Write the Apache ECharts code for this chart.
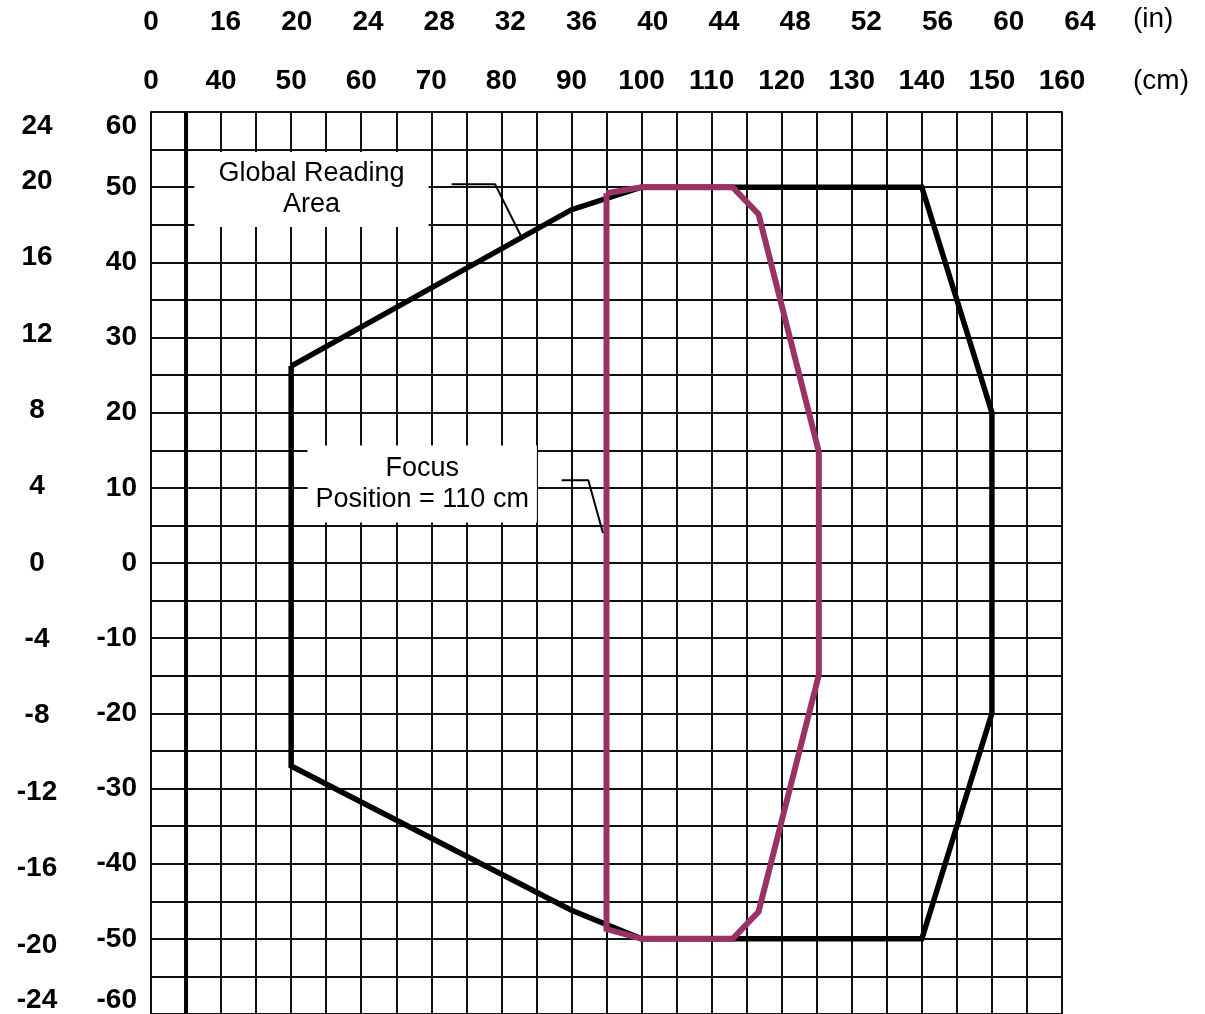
<!DOCTYPE html>
<html><head><meta charset="utf-8">
<script src="https://cdn.jsdelivr.net/npm/echarts@6/dist/echarts.min.js"></script>
<style>html,body{margin:0;padding:0;background:#fff}#c{width:1205px;height:1014px}</style>
</head><body><div id="c"></div>
<script>
// ---------------- data ----------------
const cmTickLabelsX = [0, 40, 50, 60, 70, 80, 90, 100, 110, 120, 130, 140, 150, 160];
const inTickLabelsX = [0, 16, 20, 24, 28, 32, 36, 40, 44, 48, 52, 56, 60, 64];
const cmTickLabelsY = [-60, -50, -40, -30, -20, -10, 0, 10, 20, 30, 40, 50, 60];
const inTickLabelsY = [-24, -20, -16, -12, -8, -4, 0, 4, 8, 12, 16, 20, 24];
const unitLabels = ['(in)', '(cm)'];

// Global Reading Area outline (cm)
const globalX = [50, 90, 100, 140, 150, 150, 140, 100, 90, 50, 50];
const globalY = [26.2, 47, 50, 50, 20, -20, -50, -50, -46.2, -27, 26.2];
// Focus position = 110 cm outline (cm)
const focusX = [95, 100, 113, 116.7, 125.3, 125.3, 116.7, 113, 100, 95, 95];
const focusY = [49.2, 50, 50, 46.4, 14.8, -14.9, -46.4, -50, -50, -48.7, 49.2];
// thick reference line (cm)
const scannerX = 35;
// callout leader lines (cm)
const globalLeaderX = [72.9, 79.1, 82.9];
const globalLeaderY = [50.4, 50.4, 43.3];
const focusLeaderX = [88.6, 92.4, 94.5];
const focusLeaderY = [11.0, 11.0, 4.0];
// callout texts and anchors (cm)
const globalNoteText = 'Global Reading\nArea';
const globalNoteAt = [52.9, 49.7];
const focusNoteText = 'Focus\nPosition = 110 cm';
const focusNoteAt = [68.7, 10.5];

// ---------------- axis constants ----------------
const X_MIN = 30, X_MAX = 160, X_MAX_IN_ROW = 165, Y_MIN = -60, Y_MAX = 60;
const CM_PER_IN = 2.54;
const clampY = v => Math.max(Y_MIN, Math.min(Y_MAX, v));
const zip = (a, b) => a.map((v, i) => [v, b[i]]);

function makeLabels(values, toPos) {
  const map = {};
  const pos = values.map(v => { const p = toPos(v); map[p.toFixed(3)] = String(v); return p; });
  pos.sort((a, b) => a - b);
  return { pos, fmt: val => map[Number(val).toFixed(3)] ?? '' };
}
const cmX = makeLabels(cmTickLabelsX, v => Math.max(X_MIN, v));
const inX = makeLabels(inTickLabelsX, v => Math.max(X_MIN, v * CM_PER_IN));
const cmY = makeLabels(cmTickLabelsY, v => clampY(v));
const inY = makeLabels(inTickLabelsY, v => clampY(v * CM_PER_IN));

const FONT = '"Liberation Sans", Arial, Helvetica, sans-serif';
const tickFont = { fontSize: 28, fontWeight: 'bold', color: '#000', fontFamily: FONT };
const gridLine = { color: '#111', width: 2 };

const chart = echarts.init(document.getElementById('c'), null, { renderer: 'canvas' });
const mainW = 911;
chart.setOption({
  animation: false,
  backgroundColor: '#fff',
  graphic: unitLabels.map((t, i) => ({
    type: 'text', left: 1133, top: i === 0 ? 5 : 67, silent: true,
    style: { text: t, fontSize: 28, fill: '#000', fontFamily: FONT }
  })),
  grid: [
    { left: 151, top: 112, width: mainW, height: 902, show: false, outerBoundsMode: 'none', containLabel: false },
    { left: 151, top: 112, width: mainW * (X_MAX_IN_ROW - X_MIN) / (X_MAX - X_MIN), height: 902, show: false,
      outerBoundsMode: 'none', containLabel: false }
  ],
  xAxis: [
    { gridIndex: 0, type: 'value', min: X_MIN, max: X_MAX, interval: 5, position: 'top',
      axisLine: { show: true, lineStyle: gridLine }, axisTick: { show: false },
      splitLine: { show: true, lineStyle: gridLine },
      axisLabel: Object.assign({ customValues: cmX.pos, formatter: cmX.fmt, margin: 17 }, tickFont) },
    { gridIndex: 0, type: 'value', min: X_MIN, max: X_MAX, interval: 5, position: 'bottom',
      axisLine: { show: true, lineStyle: gridLine }, axisTick: { show: false },
      axisLabel: { show: false }, splitLine: { show: false } },
    { gridIndex: 1, type: 'value', min: X_MIN, max: X_MAX_IN_ROW, position: 'top', offset: 59,
      axisLine: { show: false }, axisTick: { show: false }, splitLine: { show: false },
      axisLabel: Object.assign({ customValues: inX.pos, formatter: inX.fmt, margin: 17 }, tickFont) }
  ],
  yAxis: [
    { gridIndex: 0, type: 'value', min: Y_MIN, max: Y_MAX, interval: 5, position: 'left',
      axisLine: { show: true, lineStyle: gridLine }, axisTick: { show: false },
      splitLine: { show: true, lineStyle: gridLine },
      axisLabel: Object.assign({ customValues: cmY.pos, formatter: cmY.fmt, margin: 14,
        verticalAlignMaxLabel: 'top', verticalAlignMinLabel: 'bottom' }, tickFont) },
    { gridIndex: 0, type: 'value', min: Y_MIN, max: Y_MAX, position: 'left',
      axisLine: { show: false }, axisTick: { show: false }, splitLine: { show: false },
      axisLabel: Object.assign({ customValues: inY.pos, formatter: inY.fmt, margin: 114, align: 'center',
        verticalAlignMaxLabel: 'top', verticalAlignMinLabel: 'bottom' }, tickFont) },
    { gridIndex: 0, type: 'value', min: Y_MIN, max: Y_MAX, position: 'right',
      axisLine: { show: true, lineStyle: gridLine }, axisTick: { show: false },
      axisLabel: { show: false }, splitLine: { show: false } },
    { gridIndex: 1, type: 'value', min: Y_MIN, max: Y_MAX, show: false }
  ],
  series: [
    { type: 'line', name: 'ref', xAxisIndex: 0, yAxisIndex: 0, symbol: 'none', silent: true, z: 2,
      data: [[scannerX, Y_MIN], [scannerX, Y_MAX]], lineStyle: { color: '#000', width: 4 } },
    { type: 'line', name: 'Global Reading Area', xAxisIndex: 0, yAxisIndex: 0, symbol: 'none', silent: true, z: 3,
      data: zip(globalX, globalY), lineStyle: { color: '#000', width: 5.5, join: 'miter' } },
    { type: 'line', name: 'Focus', xAxisIndex: 0, yAxisIndex: 0, symbol: 'none', silent: true, z: 4,
      data: zip(focusX, focusY), lineStyle: { color: '#993366', width: 6, join: 'miter' } },
    { type: 'line', xAxisIndex: 0, yAxisIndex: 0, symbol: 'none', silent: true, z: 5,
      data: zip(globalLeaderX, globalLeaderY), lineStyle: { color: '#000', width: 2 } },
    { type: 'line', xAxisIndex: 0, yAxisIndex: 0, symbol: 'none', silent: true, z: 5,
      data: zip(focusLeaderX, focusLeaderY), lineStyle: { color: '#000', width: 2 } },
    { type: 'scatter', xAxisIndex: 0, yAxisIndex: 0, silent: true, z: 6, symbolSize: 0.1,
      itemStyle: { color: 'transparent', opacity: 1 },
      data: [globalNoteAt],
      label: { show: true, position: 'inside', formatter: globalNoteText, fontSize: 27, lineHeight: 31, opacity: 1,
        fontFamily: FONT, color: '#000', align: 'center', backgroundColor: '#fff', padding: [2, 24, 11, 24] } },
    { type: 'scatter', xAxisIndex: 0, yAxisIndex: 0, silent: true, z: 6, symbolSize: 0.1,
      itemStyle: { color: 'transparent', opacity: 1 },
      data: [focusNoteAt],
      label: { show: true, position: 'inside', formatter: focusNoteText, fontSize: 27, lineHeight: 31, opacity: 1,
        fontFamily: FONT, color: '#000', align: 'center', backgroundColor: '#fff', padding: [3, 8, 12, 8] } }
  ]
});
</script></body></html>
